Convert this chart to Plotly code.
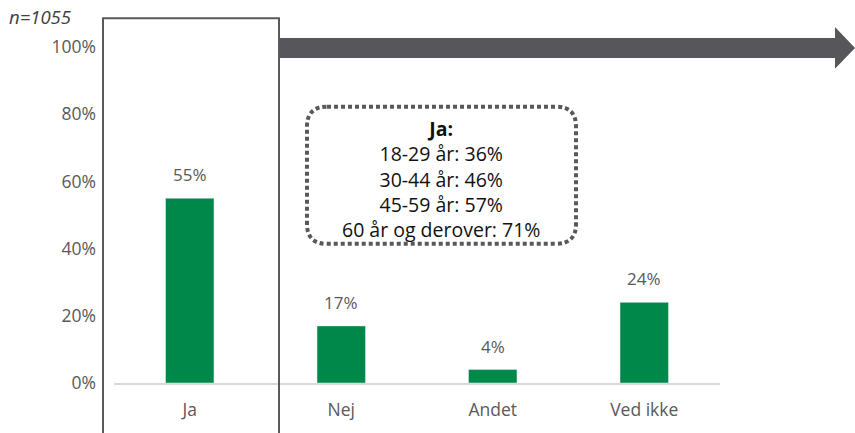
import plotly.graph_objects as go

categories = ["Ja", "Nej", "Andet", "Ved ikke"]
values = [0.55, 0.17, 0.04, 0.24]
value_labels = ["55%", "17%", "4%", "24%"]
tick_vals = [0, 0.2, 0.4, 0.6, 0.8, 1.0]
tick_text = ["0%", "20%", "40%", "60%", "80%", "100%"]
note_title = "Ja:"
note_lines = ["18-29 år: 36%", "30-44 år: 46%", "45-59 år: 57%", "60 år og derover: 71%"]
n_label = "n=1055"

W, H = 855, 433
L, R, T, B = 114, 135, 47, 48
pw, ph = W - L - R, H - T - B

def px(x):
    return (x - L) / pw

def py(y):
    return (H - B - y) / ph

GREEN = "#00884A"
GRAY = "#595959"
FONT = "Open Sans"

fig = go.Figure()
fig.add_trace(go.Bar(x=categories, y=values, marker_color=GREEN, width=0.32,
                     hoverinfo="skip"))

for c, v, t in zip(categories, values, value_labels):
    fig.add_annotation(x=c, y=v, text=t, showarrow=False, yanchor="bottom",
                       yshift=10, font=dict(size=17, color=GRAY, family=FONT))

shapes = []
# highlight box around "Ja"
shapes.append(dict(type="path", xref="paper", yref="paper",
                   path=f"M {px(103)},{py(440)} L {px(103)},{py(18)} L {px(279)},{py(18)} L {px(279)},{py(440)}",
                   line=dict(color=GRAY, width=2)))
# arrow
ax0, ax1, ah = px(280), px(855), px(835)
s0, s1 = py(38), py(58)
h0, h1 = py(27), py(69)
ym = py(48)
shapes.append(dict(type="path", xref="paper", yref="paper",
                   path=f"M {ax0},{s0} L {ah},{s0} L {ah},{h0} L {ax1},{ym} L {ah},{h1} L {ah},{s1} L {ax0},{s1} Z",
                   fillcolor="#57565B", line=dict(width=0)))
# dotted rounded note box
x0, x1, y0, y1 = 307, 576, 107, 245
r = 20
p = (f"M {px(x0 + r)},{py(y0)} L {px(x1 - r)},{py(y0)} Q {px(x1)},{py(y0)} {px(x1)},{py(y0 + r)} "
     f"L {px(x1)},{py(y1 - r)} Q {px(x1)},{py(y1)} {px(x1 - r)},{py(y1)} "
     f"L {px(x0 + r)},{py(y1)} Q {px(x0)},{py(y1)} {px(x0)},{py(y1 - r)} "
     f"L {px(x0)},{py(y0 + r)} Q {px(x0)},{py(y0)} {px(x0 + r)},{py(y0)} Z")
shapes.append(dict(type="path", xref="paper", yref="paper", path=p,
                   line=dict(color=GRAY, width=4, dash="4px,3px")))

fig.add_annotation(xref="paper", yref="paper", x=px(441), y=py(180),
                   text="<b>" + note_title + "</b><br>" + "<br>".join(note_lines),
                   showarrow=False, align="center", xanchor="center", yanchor="middle",
                   font=dict(size=19.5, color="#111111", family=FONT))

fig.add_annotation(xref="paper", yref="paper", x=px(7), y=py(16), text="<i>" + n_label + "</i>",
                   showarrow=False, xanchor="left", yanchor="middle",
                   font=dict(size=18.5, color="#404040", family=FONT))

fig.update_layout(
    width=W, height=H, margin=dict(l=L, r=R, t=T, b=B),
    plot_bgcolor="white", paper_bgcolor="white",
    shapes=shapes, showlegend=False, bargap=0.68,
    font=dict(family=FONT, color=GRAY),
)
fig.update_xaxes(showgrid=False, showline=True, linecolor="#d9d9d9", linewidth=1.5,
                 ticks="", tickfont=dict(size=17.5, color=GRAY), ticklabelstandoff=10)
fig.update_yaxes(range=[0, 1], tickvals=tick_vals, ticktext=tick_text, showgrid=False,
                 zeroline=False, showline=False, tickfont=dict(size=17.5, color=GRAY),
                 ticklabelstandoff=17)

fig.write_html("out.html", config={"displayModeBar": False},
               post_script="document.body.style.margin='0px';")
